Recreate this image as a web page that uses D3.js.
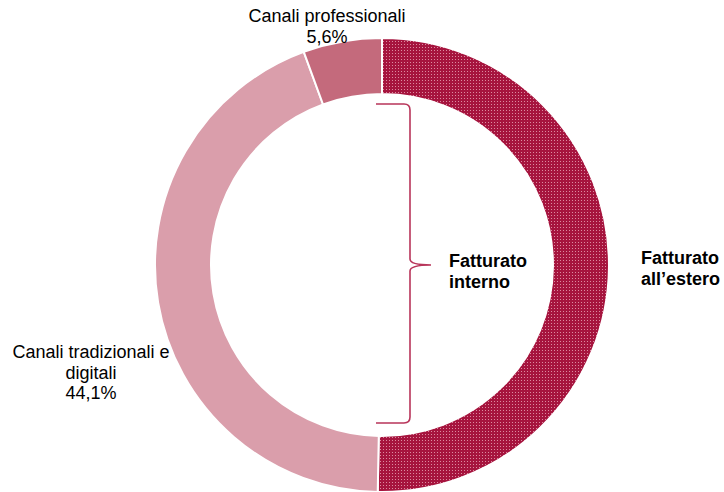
<!DOCTYPE html>
<html>
<head>
<meta charset="utf-8">
<script src="https://cdn.jsdelivr.net/npm/d3@7"></script>
<style>
  html, body { margin: 0; padding: 0; background: #fff; }
  svg { display: block; font-family: "Liberation Sans", Arial, sans-serif; }
</style>
</head>
<body>
<svg id="chart" width="724" height="492"></svg>
<script>
// ---- data ----
const categories = ["Fatturato all’estero", "Canali tradizionali e digitali", "Canali professionali"];
const values = [50.3, 44.1, 5.6];
const valueLabels = ["", "44,1%", "5,6%"];
const colors = ["url(#dots)", "#da9eab", "#c46a7c"];
const groupLabel = ["Fatturato", "interno"];

const W = 724, H = 492;
const cx = 382, cy = 265, rOuter = 227, rInner = 171;

const svg = d3.select("#chart");

// pattern for the export slice
const defs = svg.append("defs");
const pat = defs.append("pattern")
  .attr("id", "dots").attr("patternUnits", "userSpaceOnUse")
  .attr("width", 3).attr("height", 3);
pat.append("rect").attr("width", 3).attr("height", 3).attr("fill", "#a6143e");
pat.append("rect").attr("x", 1).attr("y", 1).attr("width", 1).attr("height", 1).attr("fill", "#dc8aa0");

const g = svg.append("g").attr("transform", `translate(${cx},${cy})`);

const pie = d3.pie().sort(null).value(d => d);
const arcs = pie(values);
const arc = d3.arc().innerRadius(rInner).outerRadius(rOuter);

g.selectAll("path.slice")
  .data(arcs)
  .join("path")
  .attr("class", "slice")
  .attr("d", arc)
  .attr("fill", (d, i) => colors[i])
  .attr("stroke", "#fff")
  .attr("stroke-width", 2);

// brace for "Fatturato interno"
const bx = 28, bTop = -161, bBot = 158, tipX = 49, armL = -6;
const brace = d3.path();
brace.moveTo(armL, bTop);
brace.lineTo(bx - 6, bTop);
brace.quadraticCurveTo(bx, bTop, bx, bTop + 6);
brace.lineTo(bx, -6);
brace.quadraticCurveTo(bx, 0, tipX, 0);
brace.quadraticCurveTo(bx, 0, bx, 6);
brace.lineTo(bx, bBot - 6);
brace.quadraticCurveTo(bx, bBot, bx - 6, bBot);
brace.lineTo(armL, bBot);
g.append("path").attr("d", brace.toString())
  .attr("fill", "none").attr("stroke", "#b8355a").attr("stroke-width", 1.6);

// labels
const lab = svg.append("g").attr("font-size", 18).attr("fill", "#000");

lab.append("text").attr("font-weight", "bold")
  .selectAll("tspan").data(groupLabel).join("tspan")
  .attr("x", 449).attr("y", (d, i) => 267 + i * 21).text(d => d);

lab.append("text").attr("font-weight", "bold")
  .selectAll("tspan").data(["Fatturato", "all’estero"]).join("tspan")
  .attr("x", 641).attr("y", (d, i) => 264 + i * 21).text(d => d);

lab.append("text").attr("text-anchor", "middle")
  .selectAll("tspan").data([categories[2], valueLabels[2]]).join("tspan")
  .attr("x", 327).attr("y", (d, i) => 22 + i * 21).text(d => d);

lab.append("text").attr("text-anchor", "middle")
  .selectAll("tspan").data(["Canali tradizionali e", "digitali", valueLabels[1]]).join("tspan")
  .attr("x", 91).attr("y", (d, i) => 358 + i * 20.7).text(d => d);
</script>
</body>
</html>
